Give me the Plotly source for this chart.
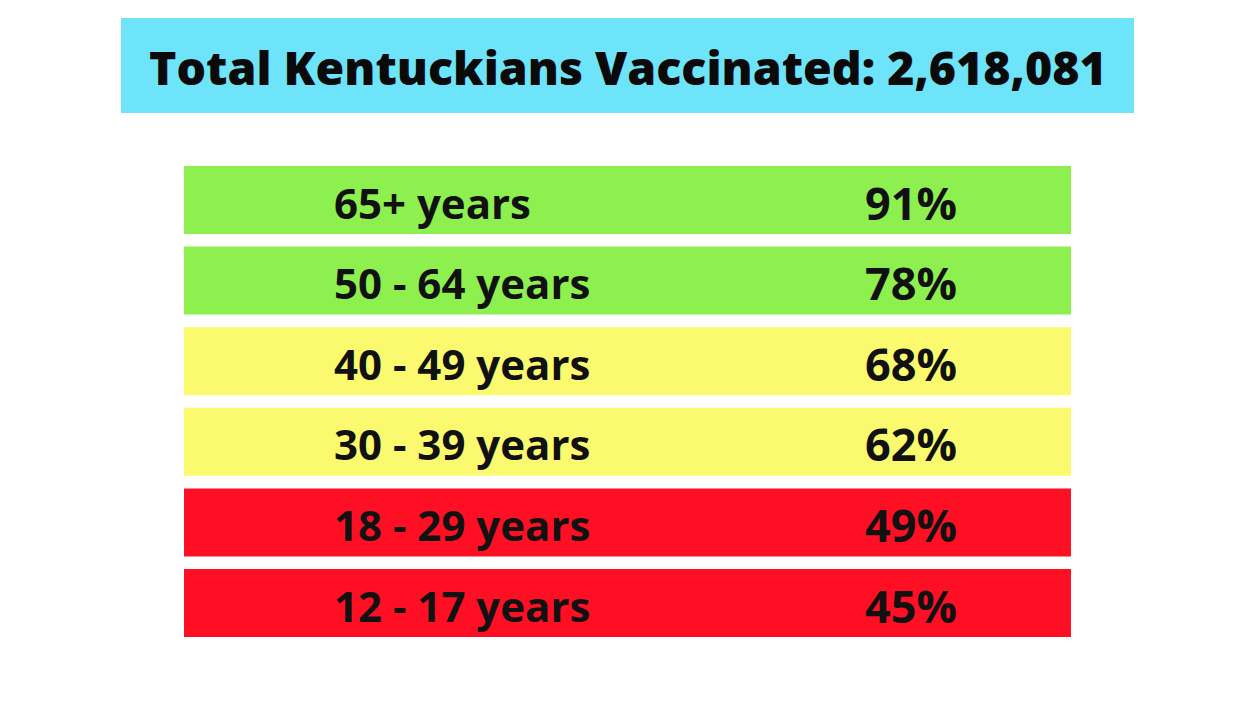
import plotly.graph_objects as go

# data
grupos = ["65+ years", "50 - 64 years", "40 - 49 years", "30 - 39 years", "18 - 29 years", "12 - 17 years"]
porcentajes = [91, 78, 68, 62, 49, 45]
colores = ["#8DF04F", "#8DF04F", "#FBFA6E", "#FBFA6E", "#FF0F24", "#FF0F24"]
titulo = "Total Kentuckians Vaccinated: 2,618,081"

W, H = 1245, 705
OFF = 8  # la pagina deja 8px de margen alrededor del grafico


def px_x(v):
    return (v - OFF) / W


def px_y(v):
    return 1 - (v - OFF) / H


fig = go.Figure()

# una barra completa por grupo, sirve de fondo de la fila
fig.add_trace(go.Bar(
    y=grupos,
    x=[1] * len(grupos),
    orientation="h",
    marker=dict(color=colores, line=dict(width=0)),
    hoverinfo="skip",
    showlegend=False,
))

for g, p in zip(grupos, porcentajes):
    fig.add_annotation(x=0.1665, y=g, text=g, xref="x", yref="y",
                       xanchor="left", yanchor="middle", showarrow=False, yshift=-2,
                       font=dict(family="Open Sans", size=42, color="#111111", weight=700))
    fig.add_annotation(x=0.7655, y=g, text=f"{p}%", xref="x", yref="y",
                       xanchor="left", yanchor="middle", showarrow=False, yshift=-2,
                       font=dict(family="Open Sans", size=45, color="#111111", weight=700))

# caja del titulo
fig.add_shape(type="rect", xref="paper", yref="paper",
              x0=px_x(121), x1=px_x(1134), y0=px_y(113), y1=px_y(18),
              fillcolor="#6EE4FA", line=dict(width=0), layer="below")
fig.add_annotation(x=px_x(627.5), y=px_y(67), xref="paper", yref="paper",
                   text=titulo, showarrow=False, xanchor="center", yanchor="middle",
                   font=dict(family="Open Sans", size=46.5, color="#0a0a0a", weight=800))

fig.update_xaxes(range=[0, 1], domain=[px_x(184), px_x(1071)], visible=False, fixedrange=True)
fig.update_yaxes(autorange="reversed", domain=[px_y(643.3), px_y(159.7)],
                 visible=False, fixedrange=True)

fig.update_layout(
    width=W, height=H,
    margin=dict(l=0, r=0, t=0, b=0),
    paper_bgcolor="white", plot_bgcolor="white",
    bargap=0.156,
)

fig.write_html("out.html")
